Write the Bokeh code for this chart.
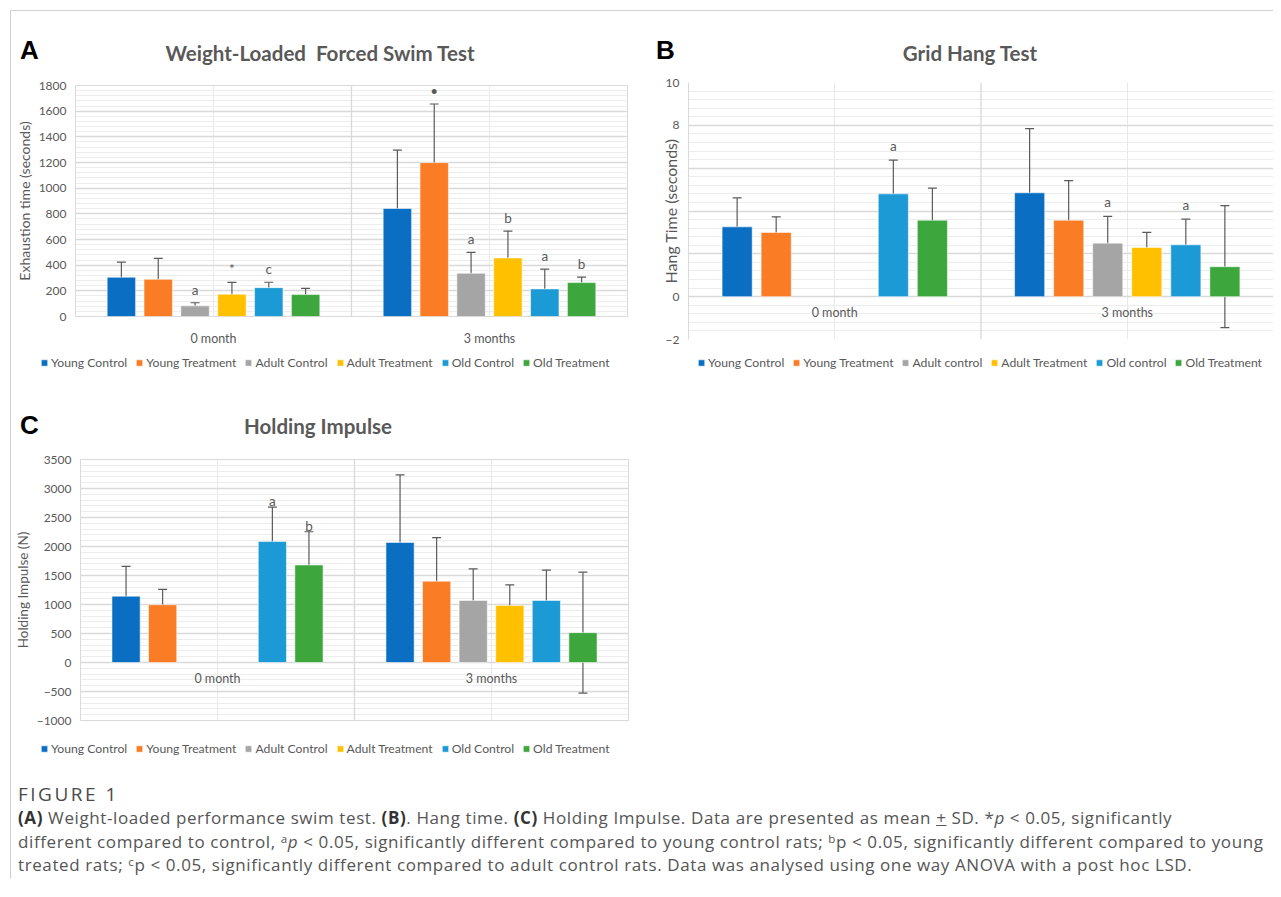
import math
from bokeh.plotting import figure
from bokeh.models import (ColumnDataSource, FactorRange, Whisker, TeeHead, Legend, LegendItem,
                          SingleIntervalTicker, Span, Div, Range1d)
from bokeh.transform import dodge
from bokeh.layouts import row, column
from bokeh.embed import file_html
from bokeh.resources import INLINE
from bokeh.core.properties import value

NaN = float("nan")

groups = ["0 month", "3 months"]
series_names = ["Young Control", "Young Treatment", "Adult Control", "Adult Treatment", "Old Control", "Old Treatment"]
series_names_b = ["Young Control", "Young Treatment", "Adult control", "Adult Treatment", "Old control", "Old Treatment"]
colors = ["#0A6FC2", "#FA7C24", "#A5A5A5", "#FFC000", "#1C9AD6", "#3DA73D"]

# (A) Weight-loaded forced swim test, exhaustion time (s); rows = series, columns = groups
swim_mean = [[306, 842], [290, 1199], [83, 337], [174, 456], [225, 215], [171, 264]]
swim_sd = [[118, 455], [163, 457], [24, 162], [92, 210], [42, 154], [48, 43]]
swim_marks = [["", ""], ["", "\u2022"], ["a", "a"], ["*", "b"], ["c", "a"], ["", "b"]]

# (B) Grid hang test, hang time (s)
hang_mean = [[3.26, 4.85], [3.0, 3.57], [NaN, 2.5], [NaN, 2.3], [4.8, 2.42], [3.57, 1.4]]
hang_sd = [[1.35, 3.0], [0.73, 1.85], [NaN, 1.25], [NaN, 0.7], [1.58, 1.2], [1.5, 2.85]]
hang_marks = [["", ""], ["", ""], ["", "a"], ["", ""], ["a", "a"], ["", ""]]

# (C) Holding impulse (N)
impulse_mean = [[1144, 2071], [995, 1402], [NaN, 1070], [NaN, 984], [2088, 1070], [1682, 515]]
impulse_sd = [[512, 1165], [266, 750], [NaN, 543], [NaN, 355], [592, 524], [572, 1042]]
impulse_marks = [["", ""], ["", ""], ["", ""], ["", ""], ["a", ""], ["b", ""]]

TXT = "#595959"
FONT = "Lato"
BAR_STEP = 0.1335
BAR_W = 0.103


def add_bars(p, means, visible=True):
    n = len(means)
    rends = []
    for i in range(n):
        off = (i - (n - 1) / 2) * BAR_STEP
        src = ColumnDataSource(dict(group=groups, mean=means[i]))
        r = p.vbar(x=dodge("group", off, range=p.x_range), top="mean", bottom=0, width=BAR_W,
                   source=src, fill_color=colors[i], line_color="white", line_alpha=0.55, line_width=1,
                   visible=visible)
        rends.append(r)
    return rends


def panel(means, sds, marks, yr, step, ytitle, width, height, borders,
          mark_px, show_xaxis, overrides=None, axis_line=False, outline=True,
          ylabel_standoff=3, ytitle_size="13px"):
    p = figure(x_range=FactorRange(*groups), y_range=yr, width=width, height=height,
               output_backend="svg", toolbar_location=None,
               x_axis_location="below" if show_xaxis else None,
               min_border_left=borders[0], min_border_right=borders[1],
               min_border_top=borders[2], min_border_bottom=borders[3], margin=0)
    p.background_fill_color = "white"
    p.border_fill_color = "white"
    p.outline_line_color = "#d9d9d9" if outline else None

    p.ygrid.grid_line_color = "#d9d9d9"
    p.ygrid.grid_line_width = 1.3
    p.ygrid.minor_grid_line_color = "#ededed"
    p.xgrid.grid_line_color = "#e9e9e9"
    for i in range(1, len(groups)):
        p.add_layout(Span(location=i, dimension="height", line_color="#d9d9d9", line_width=1.3))

    yax = p.yaxis[0]
    yax.ticker = SingleIntervalTicker(interval=step, num_minor_ticks=5)
    yax.axis_label = ytitle
    yax.axis_label_text_font = FONT
    yax.axis_label_text_font_size = ytitle_size
    yax.axis_label_text_font_style = "normal"
    yax.axis_label_text_color = TXT
    yax.axis_label_standoff = ylabel_standoff
    yax.major_label_text_font = FONT
    yax.major_label_text_font_size = "12px"
    yax.major_label_text_color = TXT
    yax.major_label_standoff = 9
    yax.major_tick_line_color = None
    yax.minor_tick_line_color = None
    yax.major_tick_out = 0
    yax.minor_tick_out = 0
    yax.axis_line_color = "#d9d9d9" if axis_line else None
    if overrides:
        yax.major_label_overrides = overrides

    if show_xaxis:
        xax = p.xaxis[0]
        xax.major_label_text_font = FONT
        xax.major_label_text_font_size = "12.5px"
        xax.major_label_text_color = TXT
        xax.major_label_standoff = 14
        xax.axis_line_color = None
        xax.major_tick_line_color = None
        xax.major_tick_out = 0
    else:
        p.text(x=groups, y=[0] * len(groups), text=groups, y_offset=16,
               text_align="center", text_baseline="middle", text_font=value(FONT),
               text_font_size="12.5px", text_color=TXT)

    add_bars(p, means)
    n = len(means)
    for i in range(n):
        off = (i - (n - 1) / 2) * BAR_STEP
        upper = [m + s for m, s in zip(means[i], sds[i])]
        lower = [m - s for m, s in zip(means[i], sds[i])]
        src = ColumnDataSource(dict(group=groups, upper=upper, lower=lower, mark=marks[i]))
        w = Whisker(source=src, base=dodge("group", off, range=p.x_range), upper="upper", lower="lower",
                    line_color="#5a5a5a", line_width=1.2,
                    upper_head=TeeHead(size=9, line_color="#5a5a5a", line_width=1.2),
                    lower_head=TeeHead(size=9, line_color="#5a5a5a", line_width=1.2))
        p.add_layout(w)
        p.text(x=dodge("group", off, range=p.x_range), y="upper", text="mark", source=src,
               y_offset=-mark_px, text_align="center", text_baseline="middle",
               text_font=value(FONT), text_font_size="13.5px", text_color=TXT)
    return p


def legend_strip(names, means, width, height, loc, margin):
    # Legend row below a chart: same bar renderers (hidden), only their legend is shown.
    q = figure(width=width, height=height, x_range=FactorRange(*groups), y_range=Range1d(-2, -1),
               output_backend="svg", toolbar_location=None,
               x_axis_location=None, y_axis_location=None, min_border=0, margin=0)
    q.outline_line_color = None
    q.background_fill_color = "white"
    q.border_fill_color = "white"
    for g in q.grid:
        g.visible = False
    rends = add_bars(q, means, visible=False)
    items = [LegendItem(label=name, renderers=[r]) for name, r in zip(names, rends)]
    q.add_layout(Legend(items=items, orientation="horizontal", location=loc,
                        glyph_width=8, glyph_height=8,
                        label_text_font=FONT, label_text_font_size="12.2px", label_text_color=TXT,
                        label_height=14, label_text_baseline="middle",
                        spacing=8, label_standoff=3, padding=0, margin=margin,
                        inactive_fill_alpha=0,
                        border_line_color=None, background_fill_alpha=0), "center")
    return q


def header(letter, title, width, height, letter_left, letter_top, title_center, title_top):
    html = (
        f'<div style="position:relative;width:{width}px;height:{height}px;">'
        f'<span style="position:absolute;left:{letter_left}px;top:{letter_top}px;'
        f"font-family:'Liberation Sans';font-weight:bold;font-size:26px;line-height:26px;color:#000;\">{letter}</span>"
        f'<span style="position:absolute;left:0;width:{2 * title_center}px;top:{title_top}px;text-align:center;'
        f'font-family:Lato;font-weight:bold;font-size:20.5px;line-height:20px;color:#595959;white-space:nowrap;">{title}</span>'
        f'</div>'
    )
    return Div(text=html, width=width, height=height, margin=0)


figA = panel(swim_mean, swim_sd, swim_marks, (0, 1800), 200, "Exhaustion time (seconds)",
             629, 277, (64, 13, 12, 34), 13, True, ytitle_size="14px")
figB = panel(hang_mean, hang_sd, hang_marks, (-2, 10), 2, "Hang Time (seconds)",
             633, 279, (48, 0, 11, 11), 14, False, overrides={6: "", 4: "", 2: ""},
             axis_line=True, outline=False, ylabel_standoff=-17, ytitle_size="16px")
figC = panel(impulse_mean, impulse_sd, impulse_marks, (-1000, 3500), 500, "Holding Impulse (N)",
             629, 288, (69, 12, 12, 15), 6, False, ytitle_size="13.5px")

legA = legend_strip(series_names, swim_mean, 629, 24, "left", 29)
legB = legend_strip(series_names_b, hang_mean, 633, 24, "right", 11)
legC = legend_strip(series_names, impulse_mean, 629, 26, "left", 29)

hdrA = header("A", "Weight-Loaded&nbsp; Forced Swim Test", 629, 62, 9, 26, 309, 32)
hdrB = header("B", "Grid Hang Test", 633, 60, 16, 26, 330, 32)
hdrC = header("C", "Holding Impulse", 629, 73, 9, 38, 307, 42)

SUP = 'style="position:relative;top:-0.45em;font-size:0.68em;vertical-align:baseline;line-height:0;"'
caption_html = (
    '<div style="width:1255px;padding-left:7px;padding-top:21px;font-family:\'Open Sans\';color:#555;white-space:nowrap;">'
    '<div style="font-size:19px;line-height:24px;color:#4a4a4a;letter-spacing:2.5px;">FIGURE 1</div>'
    '<div style="font-size:17px;line-height:23.7px;letter-spacing:0.6px;">'
    '<b style="color:#333;">(A)</b> Weight-loaded performance swim test. <b style="color:#333;">(B)</b>. Hang time. '
    '<b style="color:#333;">(C)</b> Holding Impulse. Data are presented as mean <u>+</u> SD. *<i>p</i> &lt; 0.05, significantly<br>'
    f'different compared to control, <span {SUP}>a</span><i>p</i> &lt; 0.05, significantly different compared to young control rats; '
    f'<span {SUP}>b</span>p &lt; 0.05, significantly different compared to young<br>'
    f'treated rats; <span {SUP}>c</span>p &lt; 0.05, significantly different compared to adult control rats. '
    'Data was analysed using one way ANOVA with a post hoc LSD.'
    '</div></div>'
)
caption = Div(text=caption_html, width=1262, height=118, margin=0)

layout = column(
    row(column(hdrA, figA, spacing=0, margin=0),
        column(hdrB, figB, spacing=0, margin=0), spacing=0, margin=0),
    row(legA, legB, spacing=0, margin=0),
    column(hdrC, figC, spacing=0, margin=0),
    row(legC, spacing=0, margin=0),
    caption,
    spacing=0, margin=(10, 0, 0, 10),
    styles={"border-top": "1px solid #d2d2d2", "border-left": "1px solid #d2d2d2"},
)

open("out.html", "w").write(file_html(layout, INLINE))
